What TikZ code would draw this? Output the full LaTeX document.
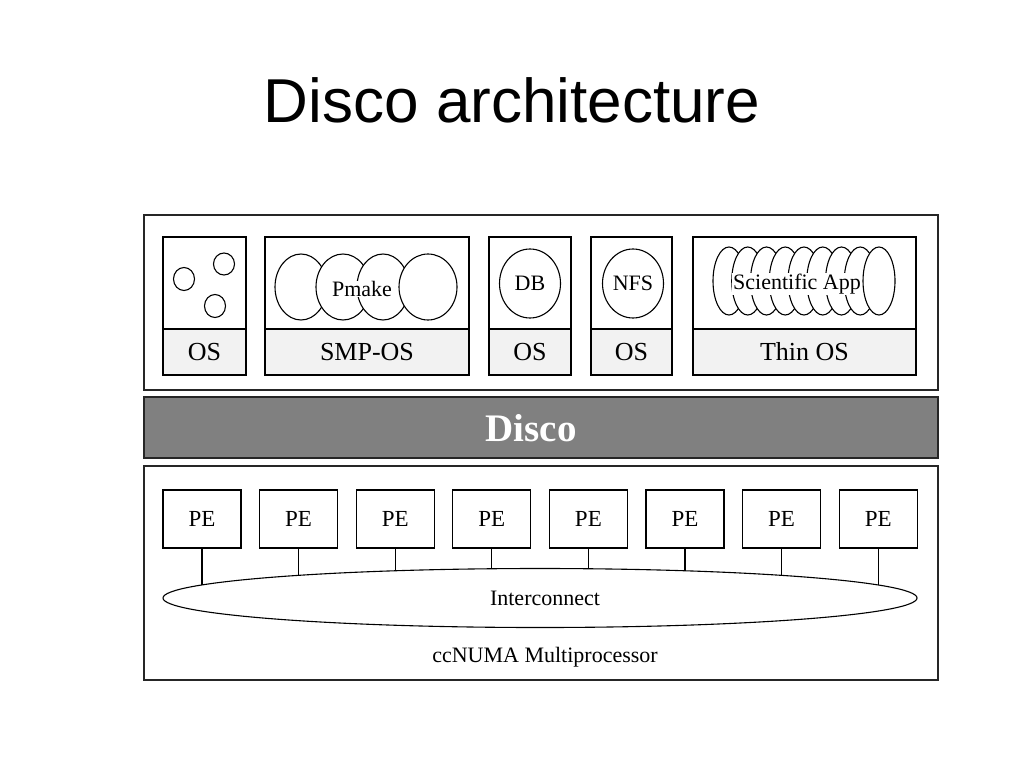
\documentclass[tikz,border=0pt]{standalone}
\usepackage{fontspec}
\setmainfont{Liberation Serif}
\newfontfamily\titlefont{Liberation Sans}
\usetikzlibrary{shapes.geometric}
\begin{document}
\begin{tikzpicture}[x=1pt,y=-1pt,
  frame/.style={draw=black!85, line width=1.3pt, inner sep=0pt, outer sep=0pt},
  ubox/.style={draw=black, line width=1.2pt, fill=white, inner sep=0pt, outer sep=0pt},
  osbox/.style={ubox, fill=black!5, minimum height=46, font=\fontsize{26}{28}\selectfont},
  topbox/.style={ubox, minimum height=92},
  ring/.style={draw=black, line width=1.1pt, fill=white},
  bub/.style={ellipse, draw=black, line width=1.1pt, fill=white, inner sep=0pt, outer sep=0pt, font=\fontsize{22}{24}\selectfont},
  lbl/.style={font=\fontsize{22}{24}\selectfont, inner sep=1pt},
  pebox/.style={ubox, minimum width=78, minimum height=58, font=\fontsize{23}{25}\selectfont},
  link/.style={draw=black, line width=1.1pt},
]
\useasboundingbox (0,0) rectangle (1024,768);
\fill[white] (0,0) rectangle (1024,768);

% title
\node[font=\titlefont\fontsize{62}{70}\selectfont, anchor=base] (title) at (512,122) {Disco architecture};

% frames
\node[frame, minimum width=794, minimum height=175] (top) at (541,302.5) {};
\node[frame, fill=black!50, minimum width=794, minimum height=61] (disco) at (541,427.5) {};
\node[text=white, font=\bfseries\fontsize{39}{40}\selectfont, inner sep=0pt] (discolbl) at (531,428) {Disco};
\node[frame, minimum width=794, minimum height=214] (bot) at (541,573) {};

% VM boxes (upper part)
\node[topbox, minimum width=83] (v1) at (204.5,283) {};
\node[topbox, minimum width=204] (v2) at (367,283) {};
\node[topbox, minimum width=82] (v3) at (530,283) {};
\node[topbox, minimum width=81] (v4) at (631.5,283) {};
\node[topbox, minimum width=223] (v5) at (804.5,283) {};
% OS boxes (lower part)
\node[osbox, minimum width=83] (o1) at (204.5,352) {OS};
\node[osbox, minimum width=204] (o2) at (367,352) {SMP-OS};
\node[osbox, minimum width=82] (o3) at (530,352) {OS};
\node[osbox, minimum width=81] (o4) at (631.5,352) {\raisebox{-2pt}{OS}};
\node[osbox, minimum width=223] (o5) at (804.5,352) {Thin OS};

% small processes in box 1
\draw[ring] (184,279) ellipse [x radius=10.5, y radius=11.5];
\draw[ring] (224,264) ellipse [x radius=10.5, y radius=11];
\draw[ring] (215,306) ellipse [x radius=10.5, y radius=11.5];

% Pmake bubbles
\draw[ring] (301,287) ellipse [x radius=26, y radius=33];
\draw[ring] (343,287) ellipse [x radius=27, y radius=33];
\draw[ring] (383,287) ellipse [x radius=26, y radius=33];
\draw[ring] (428,287) ellipse [x radius=29, y radius=33];
\node[lbl, fill=white, inner sep=0.5pt] (pmake) at (362,289) {Pmake};

% DB and NFS
\node[bub, minimum width=61, minimum height=69] (db) at (530,283.5) {DB};
\node[bub, minimum width=61, minimum height=69] (nfs) at (633,283.5) {NFS};

% Scientific App stack
\foreach \i in {0,...,8}
  \draw[ring] ({729+18.75*\i},281) ellipse [x radius=16, y radius=34];
\node[lbl, fill=white] (sci) at (797,284) {Scientific App};

% PEs and interconnect
\foreach \k in {1,...,8}
  \node[pebox] (pe\k) at ({202+96.6*(\k-1)},519) {PE};
\node[ellipse, draw=black, line width=1.1pt, fill=white, minimum width=754, minimum height=59, inner sep=0pt, font=\fontsize{22}{24}\selectfont] (ic) at (540,598) {\hspace{10pt}Interconnect};
\foreach \k in {1,...,8} {
  \pgfmathsetmacro\cx{202+96.6*(\k-1)}
  \pgfmathsetmacro\cy{598-29.5*sqrt(1-((\cx-540)/377)^2)}
  \coordinate (ic\k) at (\cx,\cy);
  \draw[link] (pe\k.south) -- (ic\k);
}
\node[lbl] (ccnuma) at (545,657) {ccNUMA Multiprocessor};
\end{tikzpicture}
\end{document}
